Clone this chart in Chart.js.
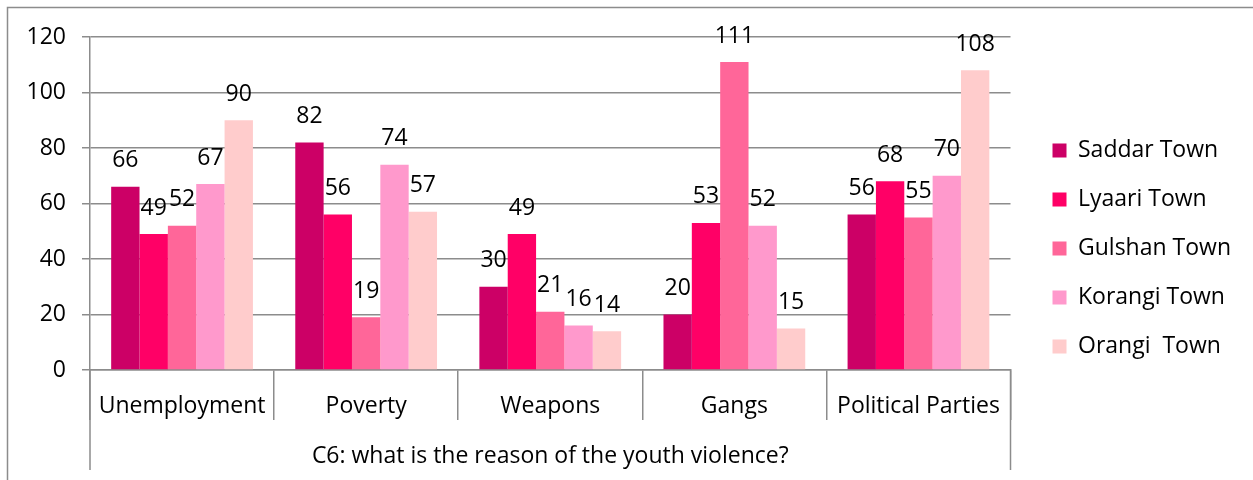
<!DOCTYPE html>
<html>
<head>
<meta charset="utf-8">
<script src="https://cdn.jsdelivr.net/npm/chart.js@4.4.1/dist/chart.umd.min.js"></script>
<style>
  html, body { margin: 0; padding: 0; background: #fff; }
  #wrap { width: 1253px; height: 480px; position: relative; }
</style>
</head>
<body>
<div id="wrap"><canvas id="c6chart"></canvas></div>
<script>
var categories = ['Unemployment', 'Poverty', 'Weapons', 'Gangs', 'Political Parties'];
var towns = ['Saddar Town', 'Lyaari Town', 'Gulshan Town', 'Korangi Town', 'Orangi  Town'];
var saddar  = [66, 82, 30, 20, 56];
var lyaari  = [49, 56, 49, 53, 68];
var gulshan = [52, 19, 21, 111, 55];
var korangi = [67, 74, 16, 52, 70];
var orangi  = [90, 57, 14, 15, 108];
var yTicks = [0, 20, 40, 60, 80, 100, 120];
var axisTitle = 'C6: what is the reason of the youth violence?';

var colors = ['#CC0066', '#FF0066', '#FF6699', '#FF99CC', '#FFCCCC'];
var gridColor = '#8c8c8c';
var fontFam = "'Open Sans', sans-serif";
var fs = 23;

Chart.defaults.font.family = fontFam;
Chart.defaults.color = '#000';

// numbers above the bars
var valueLabels = {
  id: 'valueLabels',
  afterDatasetsDraw: function(chart) {
    var ctx = chart.ctx;
    ctx.save();
    ctx.font = fs + 'px ' + fontFam;
    ctx.fillStyle = '#000';
    ctx.textAlign = 'center';
    ctx.textBaseline = 'middle';
    chart.data.datasets.forEach(function(ds, i) {
      chart.getDatasetMeta(i).data.forEach(function(bar, j) {
        ctx.fillText(ds.data[j], bar.x, bar.y - 26);
      });
    });
    ctx.restore();
  }
};

// outer frame + long outer separators of the 2-level x axis
var frameLines = {
  id: 'frameLines',
  afterInit: function(chart) {
    // nudge the legend a bit right / up, like the original
    var lg = chart.legend;
    var orig = lg.draw;
    lg.draw = function() {
      var c = this.ctx;
      c.save();
      c.translate(16, -5);
      orig.apply(this, arguments);
      c.restore();
    };
  },
  afterDraw: function(chart) {
    var ctx = chart.ctx, a = chart.chartArea;
    ctx.save();
    ctx.strokeStyle = gridColor;
    ctx.lineWidth = 1.5;
    ctx.beginPath();
    ctx.moveTo(a.left, a.bottom);
    ctx.lineTo(a.left, 470);
    ctx.moveTo(a.right, a.bottom);
    ctx.lineTo(a.right, 470);
    ctx.stroke();
    ctx.beginPath();
    ctx.moveTo(7.5, 490);
    ctx.lineTo(7.5, 7.5);
    ctx.lineTo(1260, 7.5);
    ctx.stroke();
    ctx.restore();
  }
};

var datasets = [saddar, lyaari, gulshan, korangi, orangi].map(function(vals, i) {
  return {
    label: towns[i],
    data: vals,
    backgroundColor: colors[i],
    borderWidth: 0,
    categoryPercentage: 0.77,
    barPercentage: 1.0
  };
});

new Chart(document.getElementById('c6chart'), {
  type: 'bar',
  data: { labels: categories, datasets: datasets },
  plugins: [valueLabels, frameLines],
  options: {
    responsive: true,
    maintainAspectRatio: false,
    animation: false,
    layout: { padding: { left: 10, right: 28, top: 37, bottom: 10 } },
    plugins: {
      legend: {
        position: 'right',
        labels: {
          boxWidth: 14,
          boxHeight: 14,
          padding: 26,
          font: { size: fs },
          color: '#000'
        }
      },
      tooltip: { enabled: false }
    },
    scales: {
      x: {
        afterFit: function(scale) { scale.height = 100; },
        grid: {
          offset: true,
          drawOnChartArea: false,
          tickLength: 50,
          color: gridColor,
          lineWidth: 1.5
        },
        border: { color: gridColor, width: 1.5 },
        ticks: { font: { size: fs }, padding: -27, color: '#000' },
        title: {
          display: true,
          text: axisTitle,
          font: { size: fs },
          color: '#000',
          padding: { top: 0, bottom: 0 }
        }
      },
      y: {
        min: 0,
        max: 120,
        afterFit: function(scale) { scale.width = 80; },
        afterBuildTicks: function(scale) {
          scale.ticks = yTicks.map(function(v) { return { value: v }; });
        },
        grid: { color: gridColor, lineWidth: 1.5, tickLength: 8 },
        border: { color: gridColor, width: 1.5 },
        ticks: { font: { size: fs }, padding: 16, color: '#000' }
      }
    }
  }
});
</script>
</body>
</html>
